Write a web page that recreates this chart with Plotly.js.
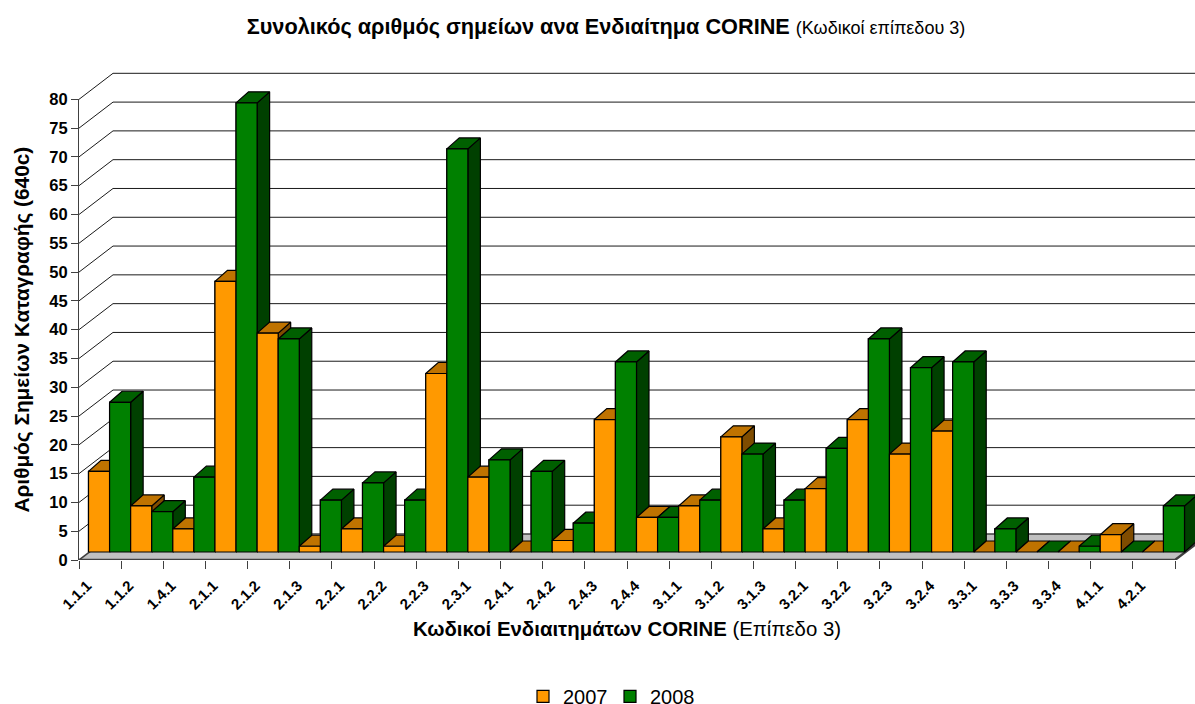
<!DOCTYPE html>
<html><head><meta charset="utf-8">
<script src="https://cdn.plot.ly/plotly-3.0.1.min.js"></script>
<style>html,body{margin:0;padding:0;background:#fff}#c{width:1195px;height:704px}</style>
</head><body><div id="c"></div>
<script>
const categories = ['1.1.1','1.1.2','1.4.1','2.1.1','2.1.2','2.1.3','2.2.1','2.2.2','2.2.3','2.3.1','2.4.1','2.4.2','2.4.3','2.4.4','3.1.1','3.1.2','3.1.3','3.2.1','3.2.2','3.2.3','3.2.4','3.3.1','3.3.3','3.3.4','4.1.1','4.2.1'];
const values2007 = [14,8,4,47,38,1,4,1,31,13,0,2,23,6,8,20,4,11,23,17,21,0,0,0,3,0];
const values2008 = [26,7,13,78,37,9,12,9,70,16,14,5,33,6,9,17,9,18,37,32,33,4,0,1,0,8];
const yTicks = [0,5,10,15,20,25,30,35,40,45,50,55,60,65,70,75,80];

const W = 1195, H = 704;
const M = {l:79, r:0, t:60, b:144.3};           // full drawing area (3-D box spills past the front axes)
const frontW = 1096, frontH = 460.4;            // size of the front axes
const plotW = W-M.l-M.r, plotH = H-M.t-M.b;
const n = categories.length;
const pxX = frontW/n, pxY = frontH/80;
// oblique projection of the 3-D chart, px converted into data units
const dep = (dx,dy) => [dx/pxX, dy/pxY];
const [wallX, wallY] = dep(34,26);
const [barX, barY]   = dep(9.5,8);
const [sideX, sideY] = dep(12.5,11);
const barW = 0.5;
const INK = '#000';

const traces = [];
function poly(xs, ys, fill, lw){
  traces.push({type:'scatter',mode:'lines',xaxis:'x2',yaxis:'y2',x:xs,y:ys,fill:'toself',fillcolor:fill,
    line:{color:INK,width:lw===undefined?1.2:lw},hoverinfo:'skip',showlegend:false});
}
function line(xs, ys, color, w){
  traces.push({type:'scatter',mode:'lines',xaxis:'x2',yaxis:'y2',x:xs,y:ys,line:{color:color,width:w},
    hoverinfo:'skip',showlegend:false,connectgaps:false});
}
// real bars: carry the legend and sit exactly under the drawn front faces
function series(name, vals, off, color){
  traces.push({type:'bar',name:name,x:categories.map((_,i)=>i+barX),y:vals,base:vals.map(()=>barY),
    width:barW,offset:off,marker:{color:color,line:{color:INK,width:1.2}},hoverinfo:'skip'});
}
series('2007',values2007,0,'#FF9900');
series('2008',values2008,barW,'#008000');

// floor
poly([0,n,n+wallX,wallX,0],[0,0,wallY,wallY,0],'#C0C0C0',0);
// wall grid
const gx=[],gy=[];
yTicks.filter(v=>v>0).forEach(v=>{gx.push(0,wallX,n+wallX,null);gy.push(v,v+wallY,v+wallY,null);});
line(gx,gy,'#1a1a1a',1);
// floor edges
line([0,wallX,n+wallX],[0,wallY,wallY],'#404040',1.6);
line([0,n,n+wallX],[0,0,wallY],'#404040',2.4);

const face = {
  o:{front:'#FF9900',top:'#BF7300',side:'#7F4C00'},
  g:{front:'#008000',top:'#006000',side:'#004000'}
};
function box(x0,v,c){
  const x1=x0+barW, b=barY, t=barY+v;
  if(v>0) poly([x1,x1+sideX,x1+sideX,x1,x1],[b,b+sideY,t+sideY,t,b],c.side);
  poly([x0,x1,x1+sideX,x0+sideX,x0],[t,t,t+sideY,t+sideY,t],c.top);
  if(v>0) poly([x0,x1,x1,x0,x0],[b,b,t,t,b],c.front);
}
categories.forEach((_,i)=>{
  box(i+barX,values2007[i],face.o);
  box(i+barX+barW,values2008[i],face.g);
});

const FONT='"Liberation Sans", Arial, sans-serif';
const tickvals = categories.map((_,i)=>i).concat([n]);
const ticktext = categories.concat(['']);
const layout = {
  width:W,height:H,margin:{l:M.l,r:M.r,t:M.t,b:M.b,pad:0,autoexpand:false},
  paper_bgcolor:'#fff',plot_bgcolor:'rgba(0,0,0,0)',barmode:'overlay',
  font:{family:FONT,color:'#000'},
  title:{text:'<b>Συνολικός αριθμός σημείων ανα Ενδιαίτημα CORINE</b> <span style="font-size:18px">(Κωδικοί επίπεδου 3)</span>',
    font:{family:FONT,size:21.7,color:'#000'},x:606/W,xanchor:'center',xref:'container',y:1-26/H,yanchor:'middle',yref:'container'},
  xaxis:{domain:[0,frontW/plotW],range:[0,n],tickmode:'array',tickvals:tickvals,ticktext:ticktext,tickangle:-45,ticks:'outside',ticklen:8,tickwidth:1,
    tickcolor:'#404040',ticklabelshift:8,ticklabelstandoff:2,showgrid:false,zeroline:false,showline:false,anchor:'y',
    tickfont:{family:FONT,size:15,weight:700,color:'#000'},
    title:{text:'<b>Κωδικοί Ενδιαιτημάτων CORINE</b> (Επίπεδο 3)',font:{family:FONT,size:20.4,color:'#000'},standoff:10}},
  yaxis:{domain:[0,frontH/plotH],range:[0,80],tickmode:'array',tickvals:yTicks,ticks:'outside',ticklen:7,tickwidth:1,tickcolor:'#404040',
    showgrid:false,zeroline:false,showline:true,linecolor:'#404040',linewidth:1,anchor:'x',
    tickfont:{family:FONT,size:16.5,weight:700,color:'#000'},
    title:{text:'<b>Αριθμός Σημείων Καταγραφής (640c)</b>',font:{family:FONT,size:20.8,color:'#000'},standoff:14}},
  xaxis2:{domain:[0,1],range:[0,plotW/pxX],visible:false,anchor:'y2',fixedrange:true},
  yaxis2:{domain:[0,1],range:[0,plotH/pxY],visible:false,anchor:'x2',fixedrange:true},
  legend:{orientation:'h',x:(610-M.l)/plotW,xanchor:'center',y:-(696-(H-M.b))/plotH,yanchor:'middle',
    font:{family:FONT,size:20,color:'#000'},itemwidth:30,entrywidth:42,entrywidthmode:'pixels',itemclick:false,itemdoubleclick:false,bgcolor:'rgba(0,0,0,0)'},
  showlegend:true
};
Plotly.newPlot('c',traces,layout,{displayModeBar:false,staticPlot:true});
</script></body></html>
